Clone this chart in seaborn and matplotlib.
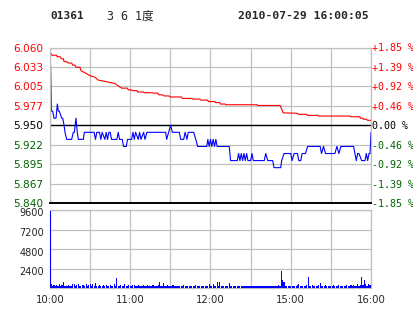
import matplotlib
matplotlib.use("Agg")
import matplotlib.pyplot as plt
import matplotlib.transforms as mtransforms
import seaborn as sns
import numpy as np

# ---------------- data ----------------
code = "01361"
name = "3 6 1度"
stamp = "2010-07-29 16:00:05"
prev_close = 5.950

price_ticks = [5.840, 5.867, 5.895, 5.922, 5.950, 5.977, 6.005, 6.033, 6.060]
price_labels = ["5.840", "5.867", "5.895", "5.922", "5.950", "5.977", "6.005", "6.033", "6.060"]
pct_labels = ["-1.85 %", "-1.39 %", "-0.92 %", "-0.46 %", "0.00 %", "+0.46 %", "+0.92 %", "+1.39 %", "+1.85 %"]
label_colors = ["#006400"] * 4 + ["#000000"] + ["#ff0000"] * 4

vol_ticks = [2400, 4800, 7200, 9600]
vol_labels = ["2400", "4800", "7200", "9600"]

grid_minutes = [0, 30, 60, 90, 120, 150, 180, 210, 240]
time_labels = ["10:00", "", "11:00", "", "12:00", "", "15:00", "", "16:00"]

# price line: trading minute index, price
price_t = [0, 0.5, 1, 2, 3, 4.5, 5.5, 6.2, 7, 8.7, 9.5, 10.5, 11.2, 12.5, 16.2, 17.4, 18.2, 19.4,
           20.4, 21.2, 24.9, 25.7, 33, 34, 35, 37, 38, 39, 41, 42, 43, 44, 45, 46, 50, 51, 52, 54,
           55, 57, 58, 61, 62, 63, 64, 66, 67, 68, 70, 71, 72.5, 86.5, 87.2, 90.2, 91.5, 96.7,
           97.7, 100, 101, 102.4, 103.4, 107.4, 109, 110.4, 117.2, 118, 119, 120, 121, 122, 123,
           124, 125, 134, 135, 140, 141, 142, 143, 144, 145, 146, 147, 148, 150, 151, 152, 160.2,
           161.3, 162.8, 166.5, 167.5, 172.5, 173.2, 175, 180, 181, 182.5, 185, 186, 187.5, 188.5,
           191, 192.6, 202, 203, 204.5, 206, 213, 214.5, 216, 217.5, 227, 228, 229, 230, 231, 233,
           235.5, 236.5, 237.5, 238.5, 239.3, 240]
price_p = [6.05, 6.03, 5.97, 5.97, 5.96, 5.96, 5.98, 5.97, 5.97, 5.96, 5.96, 5.95, 5.94, 5.93, 5.93,
           5.94, 5.94, 5.96, 5.94, 5.93, 5.93, 5.94, 5.94, 5.93, 5.94, 5.94, 5.93, 5.94, 5.93, 5.94,
           5.93, 5.94, 5.94, 5.93, 5.93, 5.94, 5.93, 5.93, 5.92, 5.92, 5.93, 5.93, 5.94, 5.93, 5.94,
           5.93, 5.94, 5.93, 5.94, 5.93, 5.94, 5.94, 5.93, 5.95, 5.94, 5.94, 5.93, 5.93, 5.94, 5.93,
           5.94, 5.94, 5.93, 5.92, 5.92, 5.93, 5.92, 5.93, 5.92, 5.93, 5.92, 5.93, 5.92, 5.92, 5.90,
           5.90, 5.91, 5.90, 5.91, 5.90, 5.91, 5.90, 5.91, 5.90, 5.90, 5.91, 5.90, 5.90, 5.91, 5.90,
           5.90, 5.89, 5.89, 5.90, 5.91, 5.91, 5.90, 5.91, 5.91, 5.90, 5.90, 5.91, 5.91, 5.92, 5.92,
           5.91, 5.92, 5.91, 5.91, 5.92, 5.91, 5.92, 5.92, 5.91, 5.90, 5.91, 5.91, 5.90, 5.90, 5.91,
           5.90, 5.91, 5.91, 5.94]

# average price line
avg_t = [0, 1.5, 5, 5.3, 7.5, 8.5, 10, 10.5, 12.5, 13.5, 16.2, 17, 18.7, 19.5, 22.4, 23.2, 27.4,
         29.9, 33.6, 35.9, 46.4, 48.6, 52.3, 53.6, 58, 58.5, 61, 61.5, 65, 65.5, 70, 70.5, 76.5,
         77, 80.5, 81.5, 84.5, 85.2, 89, 89.7, 98.3, 98.8, 106, 107, 112, 113, 118, 118.3, 123.4,
         123.8, 127, 127.3, 131, 131.3, 155, 155.5, 172, 173, 174.4, 185, 185.5, 191.9, 192.2,
         200.4, 200.8, 224.3, 224.6, 231.8, 232, 234, 234.3, 236.8, 237.2, 240]
avg_p = [6.054, 6.049, 6.049, 6.047, 6.047, 6.044, 6.044, 6.040, 6.040, 6.038, 6.038, 6.035,
         6.035, 6.032, 6.032, 6.027, 6.023, 6.020, 6.018, 6.014, 6.010, 6.009, 6.004, 6.0025,
         6.0025, 6.000, 6.000, 5.999, 5.999, 5.997, 5.997, 5.996, 5.996, 5.9955, 5.9955, 5.993,
         5.993, 5.9915, 5.9915, 5.990, 5.990, 5.988, 5.988, 5.987, 5.987, 5.9855, 5.9855, 5.9835,
         5.9835, 5.982, 5.982, 5.980, 5.980, 5.979, 5.979, 5.978, 5.978, 5.974, 5.9675, 5.967,
         5.9655, 5.9655, 5.964, 5.964, 5.963, 5.963, 5.962, 5.962, 5.960, 5.960, 5.9585, 5.9585,
         5.957, 5.957]

# volume per trading minute (0..240)
volume = [
    9500, 450, 300, 420, 280, 380, 300, 520, 260, 350, 780, 300, 280, 240, 420, 300, 280, 520, 460, 300,
    380, 500, 300, 260, 420, 350, 300, 480, 260, 320,
    520, 300, 450, 280, 650, 260, 300, 420, 280, 300, 350, 260, 420, 300, 280, 380, 300, 300, 450, 280,
    1250, 300, 260, 380, 280, 300, 450, 280, 300, 350,
    300, 280, 350, 420, 300, 260, 380, 300, 280, 300, 350, 260, 280, 380, 300, 280, 300, 420, 300, 280,
    260, 350, 750, 300, 280, 650, 300, 280, 350, 260,
    300, 280, 350, 260, 300, 280, 300, 260, 280, 300, 350, 280, 260, 300, 280, 300, 260, 280, 300, 350,
    280, 260, 300, 280, 300, 260, 280, 300, 260, 450,
    300, 280, 450, 300, 280, 750, 300, 750, 280, 260, 300, 280, 260, 300, 620, 300, 250, 280, 260, 250,
    260, 280, 250, 260, 280, 250, 260, 270, 250, 260,
    260, 250, 280, 260, 250, 270, 260, 250, 280, 260, 250, 270, 260, 280, 250, 300, 260, 280, 300, 260,
    280, 350, 300, 2100, 1000, 750, 300, 280, 260, 300,
    280, 300, 260, 280, 300, 350, 500, 300, 280, 260, 300, 280, 350, 1350, 300, 280, 350, 300, 280, 260,
    300, 350, 620, 300, 280, 300, 350, 280, 300, 260,
    300, 280, 350, 300, 260, 280, 350, 300, 280, 300, 260, 300, 350, 280, 300, 420, 300, 350, 280, 300,
    500, 300, 400, 1350, 350, 1000, 450, 300, 500, 400, 380,
]
minutes = np.arange(len(volume))

# ---------------- styling ----------------
sns.set_style("white")
plt.rcParams["font.family"] = ["DejaVu Sans", "Noto Sans CJK SC"]

W, H = 414, 314
fig = plt.figure(figsize=(W / 100, H / 100), dpi=100)
fig.patch.set_facecolor("white")

GRID = "#c0c0c0"
x0 = 50 / W
w = 321 / W
ax1 = fig.add_axes([x0, 1 - 203 / H, w, (203 - 47.5) / H])
ax2 = fig.add_axes([x0, 1 - 288 / H, w, (288 - 210) / H])

# price panel
sns.lineplot(x=avg_t, y=avg_p, ax=ax1, color="#ff0000", lw=0.8, sort=False, estimator=None)
sns.lineplot(x=price_t, y=price_p, ax=ax1, color="#0000ff", lw=0.8, sort=False, estimator=None)
ax1.set_xlim(0, 240)
ax1.set_ylim(price_ticks[0], price_ticks[-1])
ax1.set_xticks(grid_minutes)
ax1.set_xticklabels([])
ax1.set_yticks(price_ticks)
ax1.set_yticklabels(price_labels, fontsize=7.6)
for lab, c in zip(ax1.get_yticklabels(), label_colors):
    lab.set_color(c)
ax1.grid(True, color=GRID, lw=0.9)
ax1.set_axisbelow(True)
ax1.axhline(prev_close, color="black", lw=1.0, zorder=1.5)
ax1.tick_params(axis="both", length=0, pad=5)
ax1.set_xlabel("")
ax1.set_ylabel("")
for s in ["left", "right", "top"]:
    ax1.spines[s].set_color(GRID)
    ax1.spines[s].set_linewidth(0.9)
ax1.spines["bottom"].set_color("black")
ax1.spines["bottom"].set_linewidth(1.4)

axr = ax1.twinx()
axr.set_ylim(price_ticks[0], price_ticks[-1])
axr.set_yticks(price_ticks)
axr.set_yticklabels(pct_labels, family="DejaVu Sans Mono", fontsize=7.2)
for lab, c in zip(axr.get_yticklabels(), label_colors):
    lab.set_color(c)
axr.tick_params(axis="y", length=0, pad=1)
for s in axr.spines.values():
    s.set_visible(False)

# volume panel
ax2.bar(minutes, volume, width=0.85, color="#0000ff", linewidth=0, zorder=3)
ax2.set_xlim(0, 240)
ax2.set_ylim(0, 9600)
ax2.set_yticks(vol_ticks)
ax2.set_yticklabels([])
lab_tr = mtransforms.blended_transform_factory(ax2.transAxes, ax2.transData) + \
    mtransforms.ScaledTranslation(-6 / 100, -3.5 / 100, fig.dpi_scale_trans)
for v, t in zip(vol_ticks, vol_labels):
    ax2.text(0, v, t, transform=lab_tr, ha="right", va="center", fontsize=7)
ax2.set_xticks(grid_minutes)
ax2.set_xticklabels(time_labels, fontsize=7.3)
ax2.grid(True, color=GRID, lw=0.9)
ax2.set_axisbelow(True)
ax2.tick_params(axis="both", length=0, pad=5)
for s in ax2.spines.values():
    s.set_color(GRID)
    s.set_linewidth(0.9)

# header
ty = 1 - 16 / H
fig.text(50 / W, ty, code, family="DejaVu Sans Mono", weight="bold", fontsize=8, va="center")
fig.text(107 / W, ty, name, family=["DejaVu Sans Mono", "Noto Sans CJK SC"], fontsize=8.4, va="center")
fig.text(238 / W, ty, stamp, family="DejaVu Sans Mono", weight="bold", fontsize=8.2, va="center")

fig.savefig("out.png", dpi=100, facecolor="white")
